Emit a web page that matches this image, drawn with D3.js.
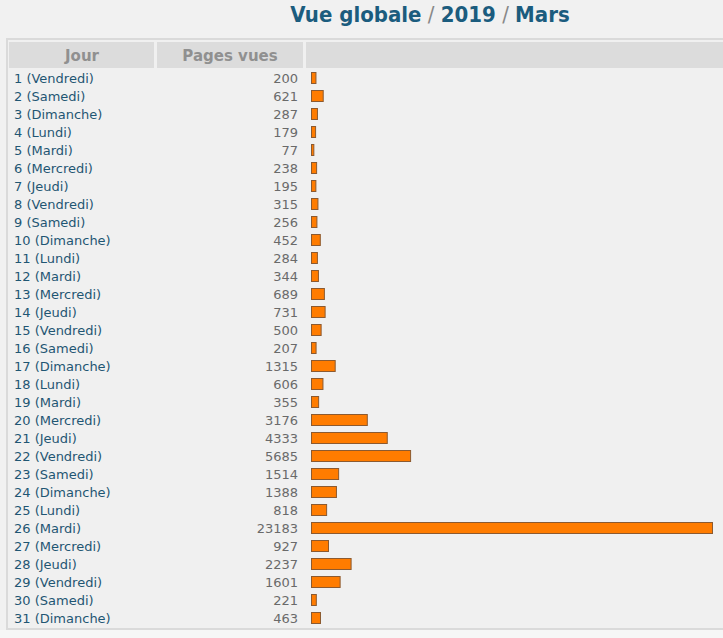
<!DOCTYPE html>
<html><head><meta charset="utf-8">
<script src="https://cdn.jsdelivr.net/npm/d3@7"></script>
<style>html,body{margin:0;padding:0;background:#f1f1f1;}svg{display:block;}</style>
</head><body>
<svg id="c" width="723" height="638"></svg>
<script>
const days = d3.range(1, 32);
const weekdays = ["Vendredi","Samedi","Dimanche","Lundi","Mardi","Mercredi","Jeudi","Vendredi","Samedi","Dimanche","Lundi","Mardi","Mercredi","Jeudi","Vendredi","Samedi","Dimanche","Lundi","Mardi","Mercredi","Jeudi","Vendredi","Samedi","Dimanche","Lundi","Mardi","Mercredi","Jeudi","Vendredi","Samedi","Dimanche"];
const pageViews = [200,621,287,179,77,238,195,315,256,452,284,344,689,731,500,207,1315,606,355,3176,4333,5685,1514,1388,818,23183,927,2237,1601,221,463];
const headers = ["Jour","Pages vues",""];
const titleParts = ["Vue globale","2019","Mars"];

const svg = d3.select("#c");
const font = "'DejaVu Sans', Verdana, sans-serif";

// title
const t = svg.append("text").attr("x", 430).attr("y", 22).attr("text-anchor","middle")
  .style("font-family","'DejaVu Sans Condensed', 'DejaVu Sans', sans-serif").style("font-weight","bold").style("font-size","22px");
titleParts.forEach((p,i)=>{
  if(i>0) t.append("tspan").attr("fill","#888").style("font-weight","normal").text(" / ");
  t.append("tspan").attr("fill","#1b5c7e").text(p);
});

// panel
svg.append("rect").attr("x",7).attr("y",39).attr("width",730).attr("height",590)
  .attr("fill","#f0f0f0").attr("stroke","#dadada").attr("stroke-width",2);
svg.append("rect").attr("x",0).attr("y",630).attr("width",723).attr("height",8).attr("fill","#f6f6f6");

// header cells
const headCells = [[9,145],[157,146],[306,420]];
headCells.forEach((c,i)=>{
  svg.append("rect").attr("x",c[0]).attr("y",42).attr("width",c[1]).attr("height",26).attr("fill","#dcdcdc");
});
svg.append("text").attr("x",82).attr("y",61).attr("text-anchor","middle").attr("fill","#909090")
  .style("font-family",font).style("font-weight","bold").style("font-size","15px").text(headers[0]);
svg.append("text").attr("x",230).attr("y",61).attr("text-anchor","middle").attr("fill","#909090")
  .style("font-family",font).style("font-weight","bold").style("font-size","15px").text(headers[1]);

const y = d3.scaleBand().domain(days).range([69, 69 + 18*days.length]);
const x = d3.scaleLinear().domain([0, d3.max(pageViews)]).range([0, 400]);

const rows = svg.append("g").selectAll("g").data(days).join("g")
  .attr("transform", d => `translate(0,${y(d) + y.bandwidth()/2})`);

rows.append("text").attr("x",14).attr("dy","0.36em").attr("fill","#1f5673")
  .style("font-family",font).style("font-size","13px")
  .text((d,i)=>`${d} (${weekdays[i]})`);
rows.append("text").attr("x",298).attr("dy","0.36em").attr("text-anchor","end").attr("fill","#6a6a6a")
  .style("font-family",font).style("font-size","13px")
  .text((d,i)=>pageViews[i]);
rows.append("rect").attr("x",311.5).attr("y",-5.5).attr("height",11)
  .attr("width",(d,i)=>x(pageViews[i]) + 1)
  .attr("fill","#ff7c00").attr("stroke","#8c5a30").attr("stroke-width",1);
</script>
</body></html>
